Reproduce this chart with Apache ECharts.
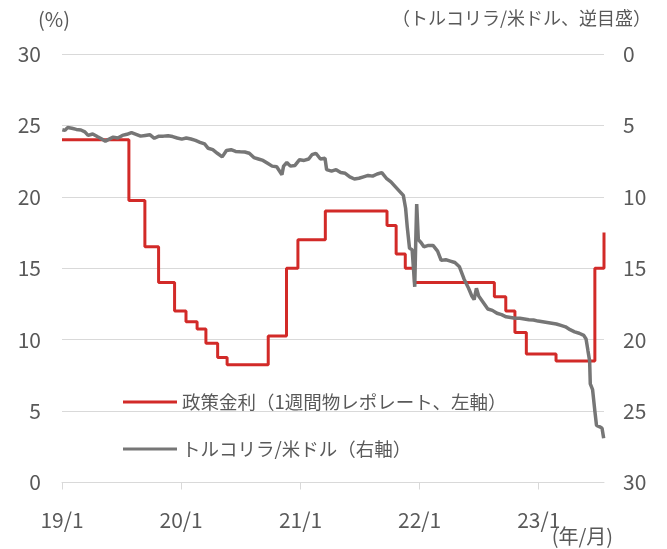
<!DOCTYPE html>
<html><head><meta charset="utf-8">
<script src="https://cdn.jsdelivr.net/npm/echarts@6/dist/echarts.min.js"></script>
<style>html,body{margin:0;padding:0;background:#fff}#c{width:667px;height:549px}</style>
</head><body><div id="c"></div>
<script>
const rateDates = ['2019-01-01','2019-07-25','2019-09-12','2019-10-24','2019-12-12','2020-01-16','2020-02-19','2020-03-17','2020-04-22','2020-05-21','2020-09-24','2020-11-19','2020-12-24','2021-03-18','2021-09-23','2021-10-21','2021-11-18','2021-12-16','2022-08-18','2022-09-22','2022-10-20','2022-11-24','2023-02-23','2023-06-22','2023-07-20'];
const rateValues = [24,19.75,16.5,14,12,11.25,10.75,9.75,8.75,8.25,10.25,15,17,19,18,16,15,14,13,12,10.5,9,8.5,15,17.5];

const fxDates = ['2019-01-02','2019-01-10','2019-01-18','2019-01-31','2019-02-14','2019-02-28','2019-03-12','2019-03-22','2019-04-05','2019-04-19','2019-05-03','2019-05-14','2019-05-24','2019-06-07','2019-06-21','2019-07-05','2019-07-19','2019-08-02','2019-08-16','2019-08-30','2019-09-13','2019-09-27','2019-10-11','2019-10-25','2019-11-08','2019-11-22','2019-12-06','2019-12-20',
'2020-01-03','2020-01-17','2020-01-31','2020-02-14','2020-02-28','2020-03-13','2020-03-24','2020-04-07','2020-04-21','2020-05-06','2020-05-19','2020-06-02','2020-06-16','2020-06-30','2020-07-14','2020-07-28','2020-08-11','2020-08-25','2020-09-08','2020-09-22','2020-10-06','2020-10-20','2020-11-05','2020-11-10','2020-11-20','2020-12-01','2020-12-15','2020-12-29',
'2021-01-12','2021-01-26','2021-02-05','2021-02-17','2021-03-03','2021-03-17','2021-03-22','2021-04-06','2021-04-20','2021-05-04','2021-05-18','2021-06-01','2021-06-15','2021-06-29','2021-07-13','2021-07-27','2021-08-10','2021-08-24','2021-09-07','2021-09-21','2021-10-05','2021-10-19','2021-11-02','2021-11-12','2021-11-19','2021-11-24','2021-12-01','2021-12-09','2021-12-13','2021-12-17','2021-12-20','2021-12-23','2021-12-28',
'2022-01-05','2022-01-14','2022-01-28','2022-02-11','2022-02-25','2022-03-08','2022-03-22','2022-04-05','2022-04-19','2022-05-03','2022-05-17','2022-05-31','2022-06-10','2022-06-17','2022-06-24','2022-07-01','2022-07-15','2022-07-29','2022-08-12','2022-08-26','2022-09-09','2022-09-23','2022-10-07','2022-10-21','2022-11-04','2022-11-18','2022-12-02','2022-12-16','2022-12-30',
'2023-01-13','2023-01-27','2023-02-10','2023-02-24','2023-03-10','2023-03-24','2023-04-07','2023-04-21','2023-05-05','2023-05-19','2023-05-26','2023-06-01','2023-06-06','2023-06-08','2023-06-15','2023-06-22','2023-06-27','2023-07-07','2023-07-14','2023-07-19'];
const fxValues = [5.30,5.35,5.15,5.20,5.28,5.32,5.45,5.70,5.60,5.78,5.95,6.10,5.98,5.82,5.88,5.70,5.62,5.50,5.62,5.75,5.70,5.65,5.90,5.75,5.75,5.72,5.78,5.88,
5.96,5.88,5.95,6.05,6.18,6.30,6.60,6.70,6.95,7.20,6.75,6.70,6.82,6.85,6.86,6.95,7.25,7.35,7.45,7.65,7.85,7.90,8.45,7.85,7.60,7.85,7.80,7.40,
7.45,7.35,7.05,6.95,7.35,7.30,8.10,8.20,8.10,8.30,8.35,8.60,8.75,8.70,8.60,8.50,8.55,8.40,8.30,8.70,8.95,9.30,9.65,9.90,10.80,12.10,13.60,13.70,15.00,16.30,13.20,10.50,13.00,
13.20,13.50,13.40,13.40,13.80,14.45,14.40,14.50,14.60,14.90,15.75,16.40,16.95,17.20,16.40,16.95,17.40,17.85,17.95,18.15,18.25,18.40,18.45,18.50,18.50,18.55,18.60,18.62,18.70,
18.75,18.80,18.85,18.90,19.00,19.10,19.30,19.45,19.55,19.70,19.95,20.80,21.50,23.10,23.50,25.00,26.00,26.10,26.20,26.90];

const rateName = '政策金利（1週間物レポレート、左軸）';
const fxName = 'トルコリラ/米ドル（右軸）';
const FONT = "'Noto Sans CJK JP','Noto Sans',sans-serif";
const TXT = '#595959';

const chart = echarts.init(document.getElementById('c'), null, {renderer:'canvas'});
chart.setOption({
  animation:false,
  textStyle:{fontFamily:FONT},
  grid:{left:62,right:63,top:54,bottom:66.5,containLabel:false},
  legend:{
    orient:'vertical', left:123, top:391, padding:0, itemGap:25,
    icon:'rect', itemWidth:54, itemHeight:3,
    textStyle:{color:TXT,fontSize:18.5,fontFamily:FONT,lineHeight:22},
    data:[rateName, fxName]
  },
  xAxis:{
    type:'time', min:'2019-01-01', max:'2023-07-20',
    minInterval:365*864e5, maxInterval:366*864e5,
    splitLine:{show:false},
    axisLine:{lineStyle:{color:'#d9d9d9',width:1}},
    axisTick:{show:true,length:7,lineStyle:{color:'#d9d9d9'}},
    axisLabel:{
      color:TXT,fontSize:21,fontFamily:FONT,margin:27,showMaxLabel:false,
      formatter:function(v){const d=new Date(v);return (d.getMonth()===0&&d.getDate()===1)?String(d.getFullYear()%100).padStart(2,'0')+'/1':'';}
    }
  },
  yAxis:[
    {type:'value',min:0,max:30,interval:5,position:'left',
     axisLine:{show:false},axisTick:{show:false},
     splitLine:{lineStyle:{color:'#d9d9d9',width:1}},
     axisLabel:{color:TXT,fontSize:21,fontFamily:FONT,margin:21}},
    {type:'value',min:0,max:30,interval:5,position:'right',inverse:true,
     axisLine:{show:false},axisTick:{show:false},splitLine:{show:false},
     axisLabel:{color:TXT,fontSize:21,fontFamily:FONT,margin:19}}
  ],
  graphic:[
    {type:'text',left:38,top:9,style:{text:'(%)',fill:TXT,font:"20px "+FONT}},
    {type:'text',right:16,top:9,style:{text:'（トルコリラ/米ドル、逆目盛）',fill:TXT,font:"18px "+FONT}},
    {type:'text',right:54,top:526,style:{text:'(年/月)',fill:TXT,font:"20px "+FONT}}
  ],
  series:[
    {name:rateName,type:'line',step:'end',yAxisIndex:0,showSymbol:false,
     data:rateDates.map((d,i)=>[d,rateValues[i]]),
     lineStyle:{color:'#d22a28',width:3},itemStyle:{color:'#d22a28'},z:2},
    {name:fxName,type:'line',yAxisIndex:1,showSymbol:false,
     data:fxDates.map((d,i)=>[d,fxValues[i]]),
     lineStyle:{color:'#767676',width:3.5},itemStyle:{color:'#767676'},z:3}
  ]
});
</script></body></html>
